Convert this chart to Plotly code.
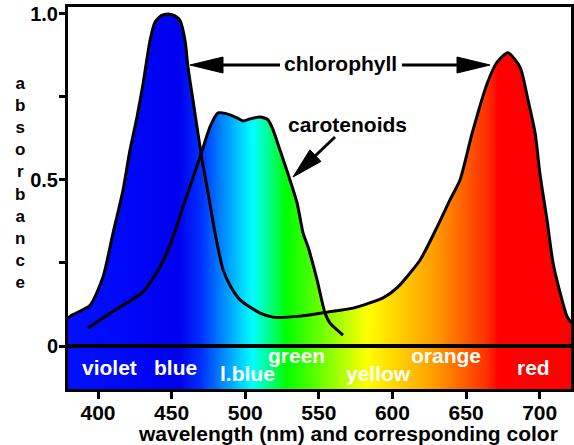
import numpy as np
import plotly.graph_objects as go

# ---------------- data ----------------
chl_nm = [379.6, 382.3, 394.6, 403.4, 410.2, 417.0, 421.7, 426.5, 430.6, 435.3,
          438.7, 443.0, 447.6, 452.0, 455.7, 459.1, 461.1, 464.5, 467.9, 470.7,
          474.0, 479.5, 484.9, 490.0, 496.5, 510.1, 518.9, 537.2, 555.6, 573.2,
          593.6, 603.1, 618.8, 630.3, 639.1, 645.9, 654.1, 664.3, 671.1, 678.5,
          686.7, 692.1, 696.9, 700.3, 705.0, 709.1, 715.2, 718.5, 721.3]
chl_abs = [0.084, 0.093, 0.123, 0.208, 0.340, 0.470, 0.590, 0.690, 0.790, 0.920,
           0.975, 0.995, 1.000, 0.995, 0.980, 0.920, 0.840, 0.740, 0.640, 0.560,
           0.480, 0.340, 0.230, 0.180, 0.139, 0.099, 0.087, 0.090, 0.102, 0.114,
           0.145, 0.175, 0.259, 0.358, 0.440, 0.500, 0.640, 0.790, 0.855, 0.883,
           0.840, 0.741, 0.642, 0.515, 0.380, 0.250, 0.139, 0.090, 0.070]

car_nm = [393.2, 408.2, 430.6, 442.1, 451.0, 457.7, 469.3, 476.1, 481.5, 487.6,
          494.4, 498.5, 503.3, 510.1, 515.5, 518.9, 523.6, 530.4, 535.2, 539.3,
          542.7, 548.8, 554.2, 557.6, 566.4]
car_abs = [0.054, 0.099, 0.163, 0.238, 0.328, 0.419, 0.569, 0.660, 0.702, 0.699,
           0.687, 0.678, 0.684, 0.690, 0.681, 0.651, 0.590, 0.500, 0.431, 0.340,
           0.298, 0.199, 0.099, 0.069, 0.033]

x_ticks = [400, 450, 500, 550, 600, 650, 700]
y_ticks = [0, 0.25, 0.5, 0.75, 1.0]
y_tick_text = ["0", "", "0.5", "", "1.0"]

band_labels = ["violet", "blue", "l.blue", "green", "yellow", "orange", "red"]
band_label_nm = [408, 452.5, 501.3, 534.7, 590.2, 636.6, 695.5]
band_label_level = [-0.065, -0.065, -0.083, -0.029, -0.083, -0.029, -0.065]

# ---------------- layout geometry / style ----------------
W, H = 574, 445
L, R, T, B = 68, 3, 7, 56
PW, PH = W - L - R, H - T - B
X0, X1 = 379.6, 721.3
Y0, Y1 = -0.1295, 1.021
FONT = "Liberation Sans, Arial, Helvetica, sans-serif"

spectrum_stops = [(379.6, "#0010ff"), (455, "#0000f0"), (470, "#0030ff"),
                  (486, "#0090ff"), (505, "#00ffff"), (517, "#00ff80"),
                  (528, "#00ff00"), (583, "#ffff00"), (630, "#ff9900"),
                  (663, "#ff3300"), (669, "#ff1800"), (671, "#ff0000"),
                  (721.3, "#ff0000")]
spectrum = [[(w - X0) / (X1 - X0), c] for w, c in spectrum_stops]
grad = dict(type="horizontal", colorscale=spectrum, start=X0, stop=X1)


def px2x(px):
    return X0 + (px - L) / PW * (X1 - X0)


def py2y(py):
    return Y1 - (py - T) / PH * (Y1 - Y0)


fig = go.Figure()

# colour band below zero
fig.add_trace(go.Scatter(x=[X0, X1], y=[Y0, Y0], mode="lines", line=dict(width=0),
                         fill="tozeroy", fillgradient=grad, hoverinfo="skip",
                         showlegend=False))
# spectrum-coloured fills under the curves
for xs, ys in [(chl_nm, chl_abs), (car_nm, car_abs)]:
    fig.add_trace(go.Scatter(x=xs, y=ys, mode="lines",
                             line=dict(width=0, shape="spline", smoothing=0.6),
                             fill="tozeroy", fillgradient=grad, hoverinfo="skip",
                             showlegend=False))
# black outlines
for xs, ys in [(chl_nm, chl_abs), (car_nm, car_abs)]:
    fig.add_trace(go.Scatter(x=xs, y=ys, mode="lines",
                             line=dict(color="black", width=3, shape="spline",
                                       smoothing=0.6),
                             showlegend=False))

shapes = [dict(type="line", xref="paper", yref="y", x0=0, x1=1, y0=0, y1=0,
               line=dict(color="black", width=4), layer="above")]


def arrow(tail, tip, head_len, head_half):
    tx, ty = tip
    dx, dy = tip[0] - tail[0], tip[1] - tail[1]
    n = (dx * dx + dy * dy) ** 0.5
    ux, uy = dx / n, dy / n
    bx, by = tx - head_len * ux, ty - head_len * uy
    px_, py_ = -uy, ux
    c1 = (bx + head_half * px_, by + head_half * py_)
    c2 = (bx - head_half * px_, by - head_half * py_)
    out = [dict(type="line", x0=px2x(tail[0]), y0=py2y(tail[1]),
                x1=px2x(bx + 2 * ux), y1=py2y(by + 2 * uy),
                line=dict(color="black", width=3), layer="above")]
    path = "M {},{} L {},{} L {},{} Z".format(px2x(tx), py2y(ty), px2x(c1[0]), py2y(c1[1]),
                                            px2x(c2[0]), py2y(c2[1]))
    out.append(dict(type="path", path=path, fillcolor="black",
                    line=dict(color="black", width=1), layer="above"))
    return out


shapes += arrow((280, 65), (190, 65), 33, 8)
shapes += arrow((402, 65), (490, 65), 33, 8)
shapes += arrow((335, 137), (293, 177), 31, 8)

annotations = [
    dict(text="chlorophyll", x=px2x(340.5), y=py2y(63.6), showarrow=False,
         xanchor="center", yanchor="middle", font=dict(size=21, color="black")),
    dict(text="carotenoids", x=px2x(347), y=py2y(124.3), showarrow=False,
         xanchor="center", yanchor="middle", font=dict(size=21, color="black")),
    dict(text="wavelength (nm) and corresponding color", xref="paper", yref="paper",
         x=(348 - L) / PW, y=(H - B - 433) / PH, showarrow=False,
         xanchor="center", yanchor="middle", font=dict(size=21, color="black")),
    dict(text="<br>".join(list("absorbance")), xref="paper", yref="paper",
         x=(20 - L) / PW, y=(H - B - 182.5) / PH, showarrow=False,
         xanchor="center", yanchor="middle", font=dict(size=17, color="black")),
]
for t, xv, yv in zip(band_labels, band_label_nm, band_label_level):
    annotations.append(dict(text=t, x=xv, y=yv, showarrow=False,
                            xanchor="center", yanchor="middle",
                            font=dict(size=21, color="white")))

fig.update_layout(
    width=W, height=H,
    margin=dict(l=L, r=R, t=T, b=B, pad=0),
    paper_bgcolor="white", plot_bgcolor="white",
    font=dict(family=FONT, weight="bold", color="black"),
    shapes=shapes, annotations=annotations,
    xaxis=dict(range=[X0, X1], tickvals=x_ticks, ticks="outside", ticklen=7,
               tickwidth=3, tickcolor="black", showgrid=False, zeroline=False,
               showline=True, linewidth=3, linecolor="black", mirror=True,
               automargin=False, ticklabelstandoff=-4,
               tickfont=dict(size=21, family=FONT, weight="bold")),
    yaxis=dict(range=[Y0, Y1], tickvals=y_ticks, ticktext=y_tick_text,
               ticks="outside", ticklen=6, tickwidth=3, tickcolor="black",
               showgrid=False, zeroline=False, showline=True, linewidth=3,
               linecolor="black", mirror=True, automargin=False,
               ticklabelstandoff=-3,
               tickfont=dict(size=20, family=FONT, weight="bold")),
)

fig.write_html("out.html", config={"displayModeBar": False},
               post_script="document.body.style.margin='0';document.body.style.padding='0';")
